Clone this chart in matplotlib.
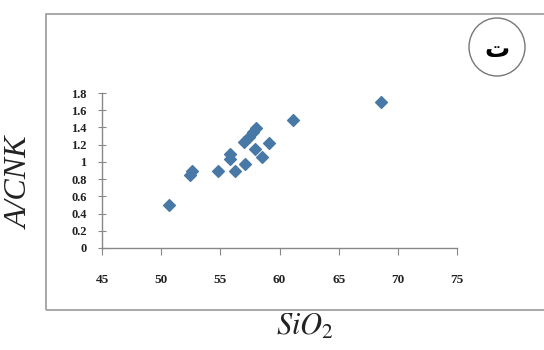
import matplotlib.pyplot as plt
from matplotlib.patches import Rectangle, Ellipse

plt.rcParams['mathtext.fontset'] = 'stix'

# SiO2 (wt%) vs A/CNK
sio2 = [50.7, 52.4, 52.6, 54.8, 55.8, 55.8, 56.2, 57.1, 57.0, 57.4, 57.8, 58.05, 57.9, 58.5, 59.1, 61.1, 68.6]
acnk = [0.50, 0.85, 0.89, 0.89, 1.09, 1.03, 0.89, 0.98, 1.23, 1.29, 1.35, 1.39, 1.15, 1.06, 1.22, 1.49, 1.69]

xticks = [45, 50, 55, 60, 65, 70, 75]
yticks = [0, 0.2, 0.4, 0.6, 0.8, 1.0, 1.2, 1.4, 1.6, 1.8]
ylabels = ['0', '0.2', '0.4', '0.6', '0.8', '1', '1.2', '1.4', '1.6', '1.8']

W, H = 544, 350
fig = plt.figure(figsize=(W / 100, H / 100), dpi=100)
ax = fig.add_axes([102 / W, 1 - 248 / H, (457 - 102) / W, (248 - 93) / H])

ax.scatter(sio2, acnk, marker='D', s=36, color='#4878a6', edgecolors='#4878a6', zorder=3)

ax.set_xlim(45, 75)
ax.set_ylim(0, 1.8)
ax.set_xticks(xticks)
ax.set_yticks(yticks)
ax.set_yticklabels(ylabels)
for s in ['top', 'right']:
    ax.spines[s].set_visible(False)
for s in ['left', 'bottom']:
    ax.spines[s].set_color('#888888')
    ax.spines[s].set_linewidth(1.0)
ax.tick_params(axis='x', direction='out', length=5, color='#888888', pad=14,
               labelsize=9.5)
ax.tick_params(axis='y', direction='inout', length=6, color='#888888', pad=8,
               labelsize=9)
for lab in ax.get_xticklabels() + ax.get_yticklabels():
    lab.set_fontfamily('Liberation Serif')
    lab.set_fontweight('bold')
    lab.set_color('#222222')

# outer frame, badge and axis titles
fig.patches.append(Rectangle((46 / W, 1 - 310 / H), (W - 46) / W + 0.01, (310 - 14) / H,
                             transform=fig.transFigure, fill=False,
                             edgecolor='#999999', linewidth=1.2))
fig.patches.append(Ellipse((497 / W, 1 - 47 / H), 56 / W, 58 / H,
                           transform=fig.transFigure, fill=False,
                           edgecolor='#777777', linewidth=1.0))
fig.text(497 / W, 1 - 50 / H, 'ت', ha='center', va='center', fontsize=18,
         fontweight='bold', family='DejaVu Sans')

fig.text(20 / W, 1 - 183 / H, 'A/CNK', rotation=90, ha='center', va='center',
         fontsize=23, family='Liberation Serif', style='italic', color='#222222')
fig.text(305 / W, 1 - 326 / H, '$SiO_2$', ha='center', va='center',
         fontsize=22, color='#222222')

fig.savefig('out.png', dpi=100)
